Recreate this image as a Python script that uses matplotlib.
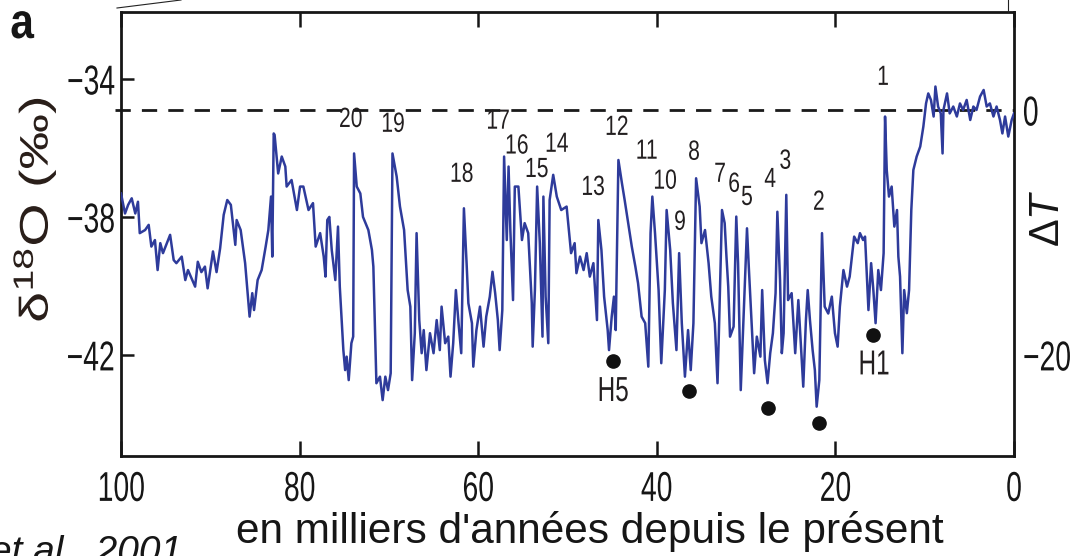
import matplotlib
matplotlib.use("Agg")
import matplotlib.pyplot as plt
from matplotlib.lines import Line2D
from matplotlib.patheffects import AbstractPathEffect
from matplotlib.transforms import Affine2D

# GISP2-like delta18O record (age in kyr BP, permil)
age_ka = [
    100.0, 99.55, 99.2, 98.8, 98.4, 98.1, 97.9, 97.3, 96.9, 96.6, 96.2, 95.9, 95.6, 95.3,
    94.5, 94.1, 93.8, 93.2, 92.8, 92.5, 91.7, 91.4, 91.0, 90.6, 90.3, 89.7, 89.3, 88.9,
    88.5, 88.1, 87.7, 87.2, 87.05, 86.6, 86.1, 85.6, 85.3, 85.1, 84.7, 84.25, 83.8, 83.5,
    83.2, 83.06, 82.9,
    82.8, 82.4, 82.0, 81.6, 81.45, 80.9, 80.3, 79.95, 79.58, 79.0, 78.5, 78.2, 77.7, 77.3,
    77.1, 76.9, 76.67, 76.4, 76.0, 75.7, 75.5, 75.1, 74.9, 74.73, 74.5, 74.2, 74.0, 73.9,
    73.6, 73.2, 72.9, 72.3, 71.9, 71.74, 71.4, 71.0, 70.7, 70.4, 70.1, 69.8, 69.6, 69.13,
    68.76, 68.3, 67.9, 67.6, 67.4, 67.1, 66.9, 66.6, 66.33, 66.1,
    65.8, 65.4, 65.0, 64.65, 64.3, 64.1, 63.7, 63.35, 63.1, 62.8, 62.5, 62.2, 61.9, 61.6,
    61.3, 61.1, 60.7, 60.55, 60.2, 59.8, 59.4, 59.1, 58.7, 58.4, 58.1, 57.8, 57.6, 57.3,
    57.1, 56.8, 56.6, 56.4, 56.1, 55.9, 55.5, 55.1, 54.8, 54.4, 54.0, 53.9, 53.65, 53.4,
    53.1, 52.8, 52.7, 52.45, 52.15, 52.0, 51.6, 51.2, 50.7, 50.1, 49.6,
    49.2, 49.0, 48.6, 48.2, 47.85, 47.5, 47.1, 46.7, 46.55, 46.2, 45.9, 45.5, 45.35, 45.05,
    44.8, 44.6, 44.3, 43.9, 43.6, 43.2, 42.8, 42.4, 42.1, 41.7, 41.3, 40.95, 40.7, 40.5,
    40.2, 39.8, 39.5, 39.1, 38.9, 38.5, 38.2, 37.8, 37.5, 37.2, 36.85, 36.5, 36.2, 35.9,
    35.6, 35.2, 35.0, 34.6, 34.2, 33.9, 33.5, 33.2, 33.04,
    32.7, 32.4, 32.2, 32.0, 31.8, 31.4, 31.1, 30.9, 30.6, 30.3, 29.9, 29.7, 29.4, 29.1,
    28.8, 28.4, 28.2, 27.9, 27.6, 27.3, 27.0, 26.7, 26.5, 26.2, 26.0, 25.8, 25.5, 25.3,
    24.9, 24.5, 24.15, 23.6, 23.3, 23.1, 22.85, 22.55, 22.3, 22.1, 21.8, 21.5, 21.2, 20.8,
    20.4, 20.05, 19.75, 19.5, 19.1, 18.7, 18.4, 17.9, 17.5, 17.25, 16.9,
    16.68, 16.3, 16.0, 15.75, 15.5, 15.2, 14.9, 14.6, 14.44, 14.25, 14.0, 13.7, 13.4, 13.1,
    12.95, 12.76, 12.5, 12.3, 12.0, 11.75, 11.5, 11.27, 10.9, 10.5, 10.15, 9.85, 9.6, 9.3,
    9.0, 8.8, 8.5, 8.2, 8.0, 7.9, 7.5, 7.2, 6.8, 6.4, 6.05, 5.7, 5.3, 4.9, 4.55, 4.2, 3.8,
    3.4, 3.06, 2.7, 2.3, 1.95, 1.57, 1.3, 1.0, 0.64, 0.26, 0.0,
]
d18o = [
    -37.32, -37.90, -37.65, -37.46, -37.90, -37.56, -38.47, -38.38, -38.23, -38.86, -38.67, -39.54, -38.76, -39.05,
    -38.52, -39.25, -39.34, -39.15, -39.83, -39.54, -40.02, -39.30, -39.60, -39.44, -40.07, -39.00, -39.60, -38.91,
    -37.94, -37.51, -37.65, -38.81, -38.09, -38.38, -39.34, -40.89, -40.21, -40.70, -39.83, -39.54, -38.86, -38.38,
    -37.41, -39.15, -35.58,
    -35.62, -36.74, -36.25, -36.54, -37.12, -36.93, -37.80, -37.12, -37.12, -37.80, -37.60, -38.86, -38.47, -39.15,
    -39.73, -38.09, -38.00, -38.96, -39.83, -38.28, -40.02, -41.86, -42.44, -42.05, -42.73, -41.66, -41.47, -36.16,
    -37.12, -37.32, -38.00, -38.38, -38.96, -39.44, -42.82, -42.63, -43.31, -42.63, -43.02, -42.53, -36.16, -36.83,
    -37.70, -38.38, -40.12, -40.60, -42.73, -41.37, -38.47, -40.99, -41.95, -41.28,
    -42.44, -41.37, -41.95, -40.99, -41.86, -40.60, -41.66, -41.47, -42.63, -41.66, -40.12, -41.08, -41.95, -37.75,
    -39.34, -40.50, -41.08, -42.34, -41.28, -40.60, -41.76, -40.89, -40.31, -39.59, -40.21, -40.99, -41.86, -40.70,
    -36.25, -38.67, -36.54, -38.38, -40.41, -37.12, -37.12, -38.67, -38.18, -38.47, -40.50, -41.76, -40.12, -37.12,
    -38.76, -41.47, -37.41, -40.31, -41.66, -37.51, -36.78, -37.41, -37.80, -37.70, -39.05,
    -38.76, -39.63, -39.15, -39.54, -39.05, -39.73, -39.34, -40.99, -38.09, -38.96, -40.31, -41.28, -41.86, -40.89,
    -40.31, -41.28, -36.35, -37.03, -37.51, -38.18, -38.86, -39.44, -39.92, -40.89, -41.08, -42.34, -38.47, -37.41,
    -38.47, -40.12, -42.24, -40.12, -37.80, -38.96, -40.50, -41.86, -39.05, -41.08, -42.63, -41.28, -42.44, -41.08,
    -36.88, -37.70, -38.76, -38.38, -39.34, -40.31, -41.08, -42.82, -41.28,
    -37.80, -38.18, -39.15, -40.02, -41.47, -41.18, -37.99, -39.34, -43.02, -40.99, -38.33, -39.44, -40.99, -42.53,
    -41.47, -42.05, -40.12, -42.15, -42.82, -41.95, -41.37, -40.21, -37.85, -39.83, -41.95, -41.37, -37.36, -40.41,
    -40.21, -41.95, -40.41, -42.92, -40.99, -40.12, -40.99, -41.86, -42.44, -43.50, -42.73, -38.47, -40.60, -40.80,
    -40.31, -41.37, -41.76, -40.60, -39.54, -40.02, -39.73, -38.57, -38.76, -38.47, -38.67,
    -38.57, -40.70, -39.34, -40.12, -41.08, -39.54, -40.12, -39.05, -35.09, -36.64, -37.41, -37.12, -38.28, -37.80,
    -39.15, -39.73, -41.95, -40.12, -40.79, -40.12, -37.80, -36.64, -36.25, -35.96, -35.38, -34.71, -34.42, -34.61,
    -35.09, -34.22, -34.80, -35.00, -36.16, -34.90, -34.42, -35.00, -34.80, -35.09, -34.71, -34.90, -34.61, -35.19, -34.80, -34.90, -34.51,
    -34.32, -34.80, -34.71, -35.09, -34.80, -35.19, -35.58, -35.09, -35.67, -35.19, -35.00,
]

# interstadial numbers
event_labels = ["20", "19", "18", "17", "16", "15", "14", "13", "12", "11",
                "10", "9", "8", "7", "6", "5", "4", "3", "2", "1"]
event_age = [74.28, 69.54, 61.85, 57.78, 55.69, 53.45, 51.21, 47.14, 44.49, 41.13,
             39.08, 37.4, 35.83, 32.92, 31.35, 29.9, 27.3, 25.6, 21.86, 14.67]
event_d18o = [-35.19, -35.33, -36.78, -35.24, -35.96, -36.64, -35.91, -37.16, -35.42, -36.11,
              -36.98, -38.17, -36.14, -36.78, -37.07, -37.45, -36.93, -36.40, -37.59, -33.97]

# Heinrich events
heinrich_age = [44.87, 36.39, 27.55, 21.84, 15.8]
heinrich_d18o = [-42.19, -43.06, -43.54, -43.97, -41.42]
heinrich_labels = ["H5", "H1"]
heinrich_label_age = [44.9, 15.68]
heinrich_label_d18o = [-43.06, -42.29]

holocene_ref = -34.9          # delta18O where deltaT = 0
k_per_permil = 20 / 7.1       # deltaT scale
ylim = (-44.93, -32.06)


class Squeeze(AbstractPathEffect):
    """Draw the text narrower along the screen x direction (condensed look)."""

    def __init__(self, sx, anchor="center"):
        super().__init__()
        self.sx = sx
        self.anchor = anchor

    def draw_path(self, renderer, gc, tpath, affine, rgbFace=None):
        ext = tpath.get_extents(affine)
        if self.anchor == "left":
            x0 = ext.x0
        elif self.anchor == "right":
            x0 = ext.x1
        else:
            x0 = (ext.x0 + ext.x1) / 2
        squeeze = Affine2D().translate(-x0, 0).scale(self.sx, 1).translate(x0, 0)
        renderer.draw_path(gc, tpath, affine + squeeze, rgbFace)


plt.rcParams["font.family"] = ["Liberation Sans", "DejaVu Sans"]
plt.rcParams["mathtext.fontset"] = "custom"
plt.rcParams["mathtext.rm"] = "Liberation Sans"
plt.rcParams["mathtext.it"] = "Liberation Sans:italic"

W, H = 1073, 556
ink = "#161616"
fig = plt.figure(figsize=(W / 100, H / 100), dpi=100)
ax = fig.add_axes([121 / W, 1 - 456 / H, (1014 - 121) / W, (456 - 12) / H])

ax.plot(age_ka, d18o, color="#2e3b9b", lw=1.8, zorder=3)
ax.plot([100.7, 0], [holocene_ref, holocene_ref], color="#1a1a1a", lw=2.0,
        dashes=(5.5, 4.0), clip_on=False, zorder=2)
ax.plot(heinrich_age, heinrich_d18o, "o", color="#111111", ms=9.5, zorder=4)

for lab, a, d in zip(event_labels, event_age, event_d18o):
    ax.text(a, d, lab, fontsize=20, ha="center", va="center", color="#231f20",
            path_effects=[Squeeze(0.76)])
for lab, a, d in zip(heinrich_labels, heinrich_label_age, heinrich_label_d18o):
    ax.text(a, d, lab, fontsize=25, ha="center", va="center", color="#231f20",
            path_effects=[Squeeze(0.7)])

ax.set_xlim(100, 0)
ax.set_ylim(*ylim)
ax.set_xticks([100, 80, 60, 40, 20, 0])
ax.set_yticks([-34, -38, -42])
ax.tick_params(axis="x", direction="in", length=11, width=1.8, top=True,
               labelsize=30, pad=10, colors=ink)
ax.tick_params(axis="y", direction="in", length=9, width=1.8, right=False,
               labelsize=30, pad=4, colors=ink)
for s in ax.spines.values():
    s.set_linewidth(2.0)
    s.set_color(ink)

ax2 = ax.twinx()
ax2.set_ylim((ylim[0] - holocene_ref) * k_per_permil, (ylim[1] - holocene_ref) * k_per_permil)
ax2.set_yticks([0, -20])
ax2.tick_params(axis="y", direction="in", length=0, labelsize=30, pad=6, colors=ink)
for s in ax2.spines.values():
    s.set_visible(False)

for t in ax.get_xticklabels():
    t.set_path_effects([Squeeze(0.68, "center")])
for t in ax.get_yticklabels():
    t.set_path_effects([Squeeze(0.68, "right")])
for t in ax2.get_yticklabels():
    t.set_path_effects([Squeeze(0.68, "left")])

fig.text(35 / W, 1 - 210 / H, "δ$^{18}$O (‰)", rotation=90, ha="center", va="center",
         fontsize=40, color="#2a1f1a", path_effects=[Squeeze(0.72)])
fig.text(1048 / W, 1 - 218 / H, r"$\Delta T$", rotation=90, ha="center", va="center",
         fontsize=30, color=ink)
fig.text(590 / W, 1 - 531 / H, "en milliers d'années depuis le présent", ha="center",
         va="center", fontsize=30.5, color=ink)
fig.text(-10 / W, -7 / H, "et al., 2001", ha="left", va="baseline", fontsize=28,
         style="italic", color=ink)
fig.text(22 / W, 1 - 25 / H, "a", ha="center", va="center", fontsize=36,
         fontweight="bold", color=ink, path_effects=[Squeeze(0.85)])

# leftover connector lines from the source figure
fig.add_artist(Line2D([117 / W, 181 / W], [1 - 8 / H, 1.0], color="#222222", lw=0.8))
fig.add_artist(Line2D([1008 / W, 1008 / W], [1 - 12 / H, 1.0], color="#222222", lw=0.8))

fig.savefig("out.png", dpi=100)
